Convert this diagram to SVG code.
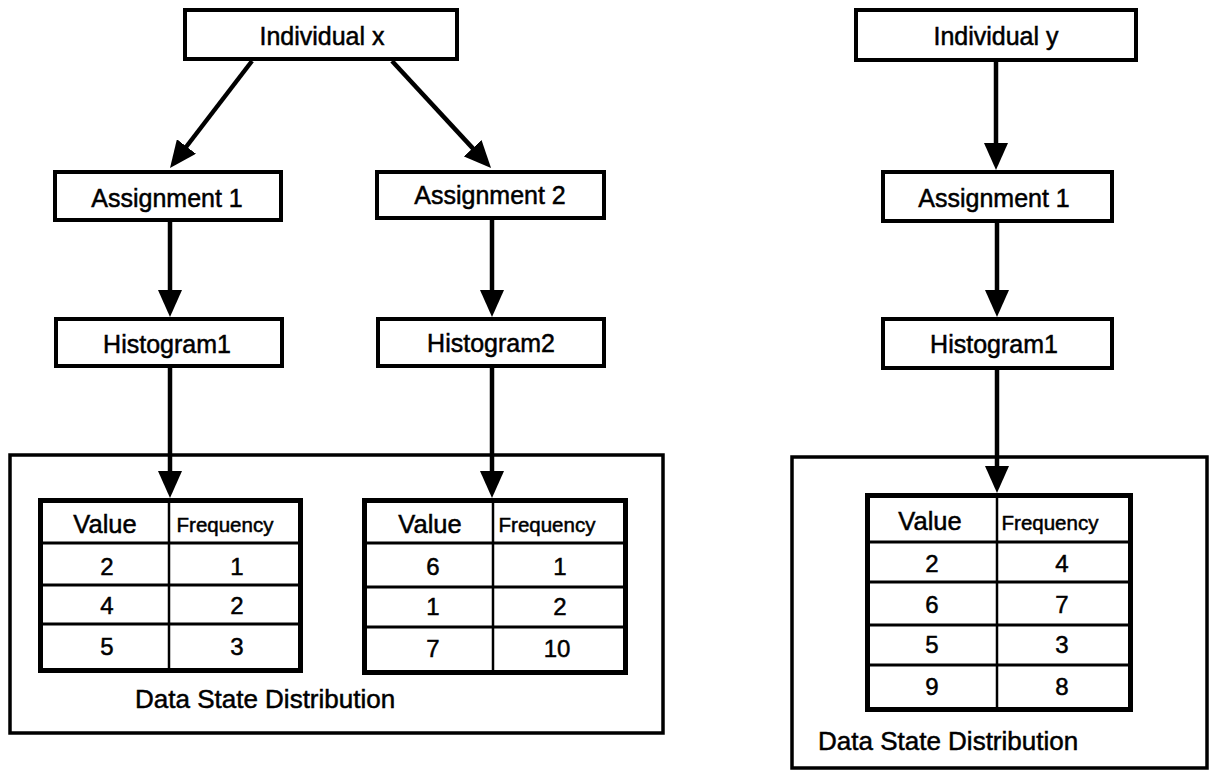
<svg xmlns="http://www.w3.org/2000/svg" width="1213" height="771" viewBox="0 0 1213 771">
<style>
  .box{fill:#fff;stroke:#000;stroke-width:4}
  .outer{fill:none;stroke:#000;stroke-width:3.5}
  .tbl{fill:#fff;stroke:#000;stroke-width:5}
  .row{stroke:#000;stroke-width:3}
  .div{stroke:#000;stroke-width:2.5}
  text{font-family:"Liberation Sans",Arial,sans-serif;fill:#000;stroke:#000;stroke-width:0.5}
  .lbl{font-size:25px;text-anchor:middle}
  .hd{font-size:25.5px;text-anchor:middle}
  .fq{font-size:20.5px;text-anchor:middle}
  .num{font-size:24px;text-anchor:middle}
  .cap{font-size:26px}
  .edge{stroke:#000;stroke-width:4.5;fill:none;marker-end:url(#ah)}
</style>
<defs>
  <marker id="ah" markerUnits="userSpaceOnUse" markerWidth="28" markerHeight="24" viewBox="0 0 28 24" refX="5" refY="12" orient="auto">
    <path d="M0,0 L27,12 L0,24 z" fill="#000"/>
  </marker>
</defs>

<g id="dsd-left">
  <rect class="outer" x="10" y="455" width="653" height="278"/>
  <text class="cap" x="135" y="708">Data State Distribution</text>
</g>
<g id="dsd-right">
  <rect class="outer" x="792" y="457" width="415" height="311"/>
  <text class="cap" x="818" y="750">Data State Distribution</text>
</g>

<g id="individual-x">
  <rect class="box" x="185" y="10" width="272" height="49"/>
  <text class="lbl" x="322" y="45">Individual x</text>
</g>
<g id="assignment1-x">
  <rect class="box" x="55" y="172" width="226" height="48"/>
  <text class="lbl" x="167" y="207">Assignment 1</text>
</g>
<g id="histogram1-x">
  <rect class="box" x="56" y="319" width="226" height="47"/>
  <text class="lbl" x="167" y="353">Histogram1</text>
</g>
<g id="assignment2-x">
  <rect class="box" x="377" y="172" width="227" height="46"/>
  <text class="lbl" x="490" y="204">Assignment 2</text>
</g>
<g id="histogram2-x">
  <rect class="box" x="378" y="319" width="226" height="47"/>
  <text class="lbl" x="491" y="352">Histogram2</text>
</g>
<g id="individual-y">
  <rect class="box" x="856" y="10" width="280" height="50"/>
  <text class="lbl" x="996" y="45">Individual y</text>
</g>
<g id="assignment1-y">
  <rect class="box" x="883" y="172" width="229" height="49"/>
  <text class="lbl" x="994" y="207">Assignment 1</text>
</g>
<g id="histogram1-y">
  <rect class="box" x="883" y="319" width="229" height="49"/>
  <text class="lbl" x="994" y="353">Histogram1</text>
</g>

<g id="table1">
  <rect class="tbl" x="40.5" y="500.5" width="260" height="170"/>
  <line class="row" x1="40" y1="543" x2="301" y2="543"/>
  <line class="row" x1="40" y1="585" x2="301" y2="585"/>
  <line class="row" x1="40" y1="624" x2="301" y2="624"/>
  <line class="div" x1="169" y1="498" x2="169" y2="672"/>
  <text class="hd" x="105" y="533">Value</text>
  <text class="fq" x="225" y="532">Frequency</text>
  <text class="num" x="107" y="575">2</text><text class="num" x="237" y="575">1</text>
  <text class="num" x="107" y="614">4</text><text class="num" x="237" y="614">2</text>
  <text class="num" x="107" y="655">5</text><text class="num" x="237" y="655">3</text>
</g>
<g id="table2">
  <rect class="tbl" x="364.5" y="500.5" width="261" height="172"/>
  <line class="row" x1="364" y1="543" x2="626" y2="543"/>
  <line class="row" x1="364" y1="587" x2="626" y2="587"/>
  <line class="row" x1="364" y1="627" x2="626" y2="627"/>
  <line class="div" x1="493" y1="498" x2="493" y2="674"/>
  <text class="hd" x="430" y="533">Value</text>
  <text class="fq" x="547" y="532">Frequency</text>
  <text class="num" x="433" y="575">6</text><text class="num" x="560" y="575">1</text>
  <text class="num" x="433" y="615">1</text><text class="num" x="560" y="615">2</text>
  <text class="num" x="433" y="657">7</text><text class="num" x="557" y="657">10</text>
</g>
<g id="table3">
  <rect class="tbl" x="867.5" y="495.5" width="263" height="214"/>
  <line class="row" x1="867" y1="542" x2="1131" y2="542"/>
  <line class="row" x1="867" y1="582" x2="1131" y2="582"/>
  <line class="row" x1="867" y1="625" x2="1131" y2="625"/>
  <line class="row" x1="867" y1="665" x2="1131" y2="665"/>
  <line class="div" x1="997" y1="493" x2="997" y2="711"/>
  <text class="hd" x="930" y="530">Value</text>
  <text class="fq" x="1050" y="530">Frequency</text>
  <text class="num" x="932" y="572">2</text><text class="num" x="1062" y="572">4</text>
  <text class="num" x="932" y="613">6</text><text class="num" x="1062" y="613">7</text>
  <text class="num" x="932" y="653">5</text><text class="num" x="1062" y="653">3</text>
  <text class="num" x="932" y="695">9</text><text class="num" x="1062" y="695">8</text>
</g>

<g id="connectors">
  <line class="edge" x1="252" y1="61" x2="183.4" y2="150.5"/>
  <line class="edge" x1="392" y1="61" x2="476.1" y2="151.9"/>
  <line class="edge" x1="170" y1="222" x2="170" y2="295"/>
  <line class="edge" x1="492" y1="220" x2="492" y2="295"/>
  <line class="edge" x1="170" y1="368" x2="170" y2="476"/>
  <line class="edge" x1="492" y1="368" x2="492" y2="476"/>
  <line class="edge" x1="996" y1="62" x2="996" y2="148"/>
  <line class="edge" x1="997" y1="223" x2="997" y2="295"/>
  <line class="edge" x1="997" y1="370" x2="997" y2="471"/>
</g>
</svg>
